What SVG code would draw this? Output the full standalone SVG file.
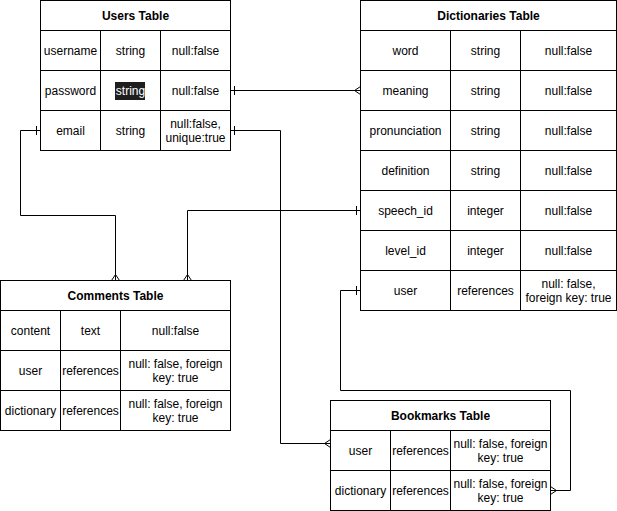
<svg xmlns="http://www.w3.org/2000/svg" width="617" height="511" viewBox="0 0 617 511">
<style>
.bg{fill:#fff}
.ln{fill:none;stroke:#000;stroke-width:1}
.t{font-family:"Liberation Sans",Arial,Helvetica,sans-serif;font-size:12px;fill:#000;text-anchor:middle;dominant-baseline:central}
.h{font-weight:bold}
.w{fill:#fff}
.cn{fill:none;stroke:#000;stroke-width:1;marker-start:url(#one);marker-end:url(#many)}
</style>
<defs>
<marker id="many" viewBox="-10 -6 12 12" markerWidth="12" markerHeight="12" refX="0" refY="0" markerUnits="userSpaceOnUse" orient="auto" overflow="visible">
<path d="M0,-4 L-6,0 L0,4" fill="none" stroke="#000" stroke-width="1"/>
</marker>
<marker id="one" viewBox="-10 -6 12 12" markerWidth="12" markerHeight="12" refX="0" refY="0" markerUnits="userSpaceOnUse" orient="auto-start-reverse" overflow="visible">
<path d="M-4,-4.5 L-4,4.5" fill="none" stroke="#000" stroke-width="1"/>
</marker>
</defs>
<rect x="0" y="0" width="617" height="511" fill="#fff"/>

<g id="connectors">
<path class="cn" d="M230.5,90.5 H360.5"/>
<path class="cn" d="M40.5,130.5 H20.5 V215.5 H115.5 V280.5"/>
<path class="cn" d="M230.5,130.5 H280.5 V443.5 H330.5"/>
<path class="cn" d="M360.5,210.5 H187.5 V280.5"/>
<path class="cn" d="M360.5,290.5 H340.5 V390.5 H570.5 V490.5 H550.5"/>
</g>

<g id="users">
<rect class="bg ln" x="40.5" y="0.5" width="190" height="150"/>
<path class="ln" d="M40.5,30.5 H230.5 M40.5,70.5 H230.5 M40.5,110.5 H230.5 M100.5,30.5 V150.5 M160.5,30.5 V150.5"/>
<text class="t h" x="135.5" y="16">Users Table</text>
<text class="t" x="70.5" y="51">username</text>
<text class="t" x="130.5" y="51">string</text>
<text class="t" x="195.5" y="51">null:false</text>
<text class="t" x="70.5" y="91">password</text>
<rect x="115" y="82" width="30" height="18" fill="#1e1e1e"/>
<text class="t w" x="130.5" y="91">string</text>
<text class="t" x="195.5" y="91">null:false</text>
<text class="t" x="70.5" y="131">email</text>
<text class="t" x="130.5" y="131">string</text>
<text class="t" x="195.5" y="124">null:false,</text>
<text class="t" x="195.5" y="138">unique:true</text>
</g>

<g id="dictionaries">
<rect class="bg ln" x="360.5" y="0.5" width="256" height="310"/>
<path class="ln" d="M360.5,30.5 H616.5 M360.5,70.5 H616.5 M360.5,110.5 H616.5 M360.5,150.5 H616.5 M360.5,190.5 H616.5 M360.5,230.5 H616.5 M360.5,270.5 H616.5 M450.5,30.5 V310.5 M520.5,30.5 V310.5"/>
<text class="t h" x="488.5" y="16">Dictionaries Table</text>
<text class="t" x="405.5" y="51">word</text>
<text class="t" x="485.5" y="51">string</text>
<text class="t" x="568.5" y="51">null:false</text>
<text class="t" x="405.5" y="91">meaning</text>
<text class="t" x="485.5" y="91">string</text>
<text class="t" x="568.5" y="91">null:false</text>
<text class="t" x="405.5" y="131">pronunciation</text>
<text class="t" x="485.5" y="131">string</text>
<text class="t" x="568.5" y="131">null:false</text>
<text class="t" x="405.5" y="171">definition</text>
<text class="t" x="485.5" y="171">string</text>
<text class="t" x="568.5" y="171">null:false</text>
<text class="t" x="405.5" y="211">speech_id</text>
<text class="t" x="485.5" y="211">integer</text>
<text class="t" x="568.5" y="211">null:false</text>
<text class="t" x="405.5" y="251">level_id</text>
<text class="t" x="485.5" y="251">integer</text>
<text class="t" x="568.5" y="251">null:false</text>
<text class="t" x="405.5" y="291">user</text>
<text class="t" x="485.5" y="291">references</text>
<text class="t" x="568.5" y="284">null: false,</text>
<text class="t" x="568.5" y="298">foreign key: true</text>
</g>

<g id="comments">
<rect class="bg ln" x="0.5" y="280.5" width="230" height="150"/>
<path class="ln" d="M0.5,310.5 H230.5 M0.5,350.5 H230.5 M0.5,390.5 H230.5 M60.5,310.5 V430.5 M120.5,310.5 V430.5"/>
<text class="t h" x="115.5" y="296">Comments Table</text>
<text class="t" x="30.5" y="331">content</text>
<text class="t" x="90.5" y="331">text</text>
<text class="t" x="175.5" y="331">null:false</text>
<text class="t" x="30.5" y="371">user</text>
<text class="t" x="90.5" y="371">references</text>
<text class="t" x="175.5" y="364">null: false, foreign</text>
<text class="t" x="175.5" y="378">key: true</text>
<text class="t" x="30.5" y="411">dictionary</text>
<text class="t" x="90.5" y="411">references</text>
<text class="t" x="175.5" y="404">null: false, foreign</text>
<text class="t" x="175.5" y="418">key: true</text>
</g>

<g id="bookmarks">
<rect class="bg ln" x="330.5" y="400.5" width="220" height="110"/>
<path class="ln" d="M330.5,430.5 H550.5 M330.5,470.5 H550.5 M390.5,430.5 V510.5 M450.5,430.5 V510.5"/>
<text class="t h" x="440.5" y="416">Bookmarks Table</text>
<text class="t" x="360.5" y="451">user</text>
<text class="t" x="420.5" y="451">references</text>
<text class="t" x="500.5" y="444">null: false, foreign</text>
<text class="t" x="500.5" y="458">key: true</text>
<text class="t" x="360.5" y="491">dictionary</text>
<text class="t" x="420.5" y="491">references</text>
<text class="t" x="500.5" y="484">null: false, foreign</text>
<text class="t" x="500.5" y="498">key: true</text>
</g>
</svg>
